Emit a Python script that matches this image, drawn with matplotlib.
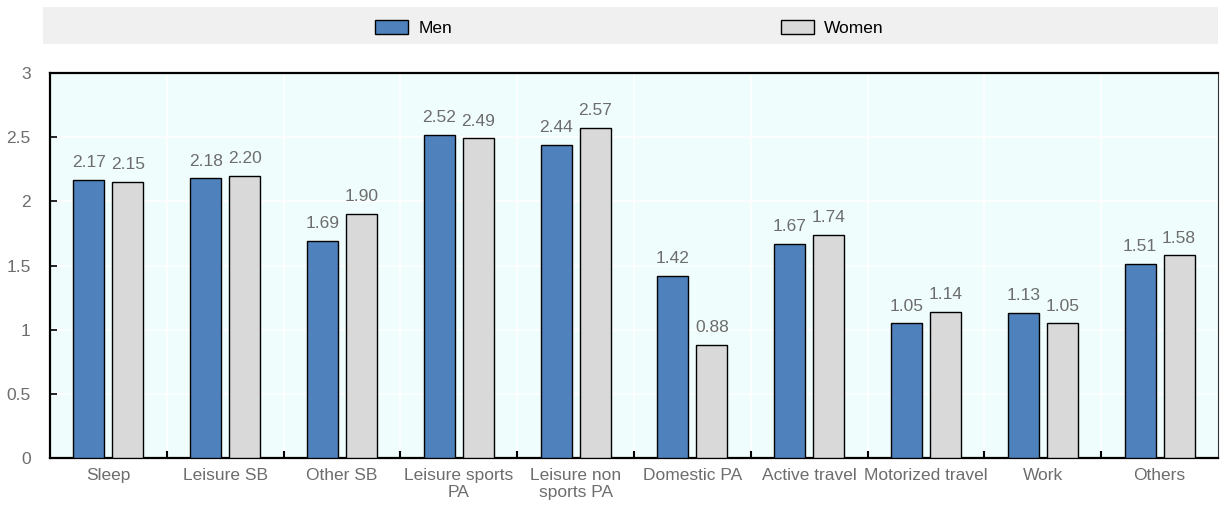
import matplotlib
matplotlib.use("Agg")
import matplotlib.pyplot as plt
import numpy as np
from matplotlib.patches import Patch, Rectangle
from matplotlib.ticker import FixedLocator

categories = ["Sleep", "Leisure SB", "Other SB", "Leisure sports\nPA", "Leisure non\nsports PA",
              "Domestic PA", "Active travel", "Motorized travel", "Work", "Others"]
men = [2.17, 2.18, 1.69, 2.52, 2.44, 1.42, 1.67, 1.05, 1.13, 1.51]
women = [2.15, 2.20, 1.90, 2.49, 2.57, 0.88, 1.74, 1.14, 1.05, 1.58]
yticks = [0, 0.5, 1, 1.5, 2, 2.5, 3]

plt.rcParams["font.family"] = ["Liberation Sans Narrow", "Liberation Sans", "DejaVu Sans"]

MEN_COLOR = "#4F81BD"
WOMEN_COLOR = "#D9D9D9"
TEXT_COLOR = "#6d6d6d"

fig = plt.figure(figsize=(12.2, 5.11), dpi=100)
ax = fig.add_axes([50 / 1220, 1 - 458 / 511, 1168 / 1220, 385 / 511])
ax.set_facecolor("#F0FDFD")

x = np.arange(len(categories))
w = 0.265
off = 0.167
b1 = ax.bar(x - off, men, w, color=MEN_COLOR, edgecolor="black", linewidth=1.0, zorder=3)
b2 = ax.bar(x + off, women, w, color=WOMEN_COLOR, edgecolor="black", linewidth=1.0, zorder=3)

for bars, vals in ((b1, men), (b2, women)):
    for r, v in zip(bars, vals):
        ax.annotate(f"{v:.2f}", (r.get_x() + r.get_width() / 2, v), xytext=(0, 7),
                    textcoords="offset points", ha="center", va="bottom",
                    fontsize=12.5, color=TEXT_COLOR)

ax.set_xlim(-0.5, len(categories) - 0.5)
ax.set_ylim(0, 3)
ax.set_yticks(yticks)
ax.set_yticklabels([f"{t:g}" for t in yticks])
ax.set_xticks(x)
ax.set_xticklabels(categories)
ax.xaxis.set_minor_locator(FixedLocator(np.arange(0.5, len(categories) - 0.5, 1)))

ax.tick_params(axis="x", which="major", length=0, pad=7, labelsize=12.5, labelcolor=TEXT_COLOR)
ax.tick_params(axis="x", which="minor", direction="in", length=5, width=1.5, color="black")
ax.tick_params(axis="y", direction="in", length=5, width=1.2, pad=14, labelsize=12.5,
               labelcolor=TEXT_COLOR)

ax.grid(axis="y", color="white", linewidth=1.2, zorder=0)
ax.grid(axis="x", which="minor", color="white", linewidth=1.2, zorder=0)
ax.set_axisbelow(True)

for s in ("left", "top", "bottom"):
    ax.spines[s].set_linewidth(1.6)
    ax.spines[s].set_color("black")
ax.spines["right"].set_linewidth(0.8)
ax.spines["right"].set_color("#333333")

# legend band
fig.patches.append(Rectangle((43 / 1220, 1 - 44 / 511), 1175 / 1220, 37 / 511,
                             transform=fig.transFigure, facecolor="#F0F0F0",
                             edgecolor="none", zorder=0))
handles = [Patch(facecolor=MEN_COLOR, edgecolor="black", linewidth=1.0),
           Patch(facecolor=WOMEN_COLOR, edgecolor="black", linewidth=1.0)]
fig.legend(handles, ["Men", "Women"], ncol=2, loc="center",
           bbox_to_anchor=(0.516, 1 - 28 / 511), frameon=False, fontsize=12.5,
           handlelength=1.9, handleheight=0.9, handletextpad=0.6, columnspacing=18.9)

fig.savefig("out.png", dpi=100)
